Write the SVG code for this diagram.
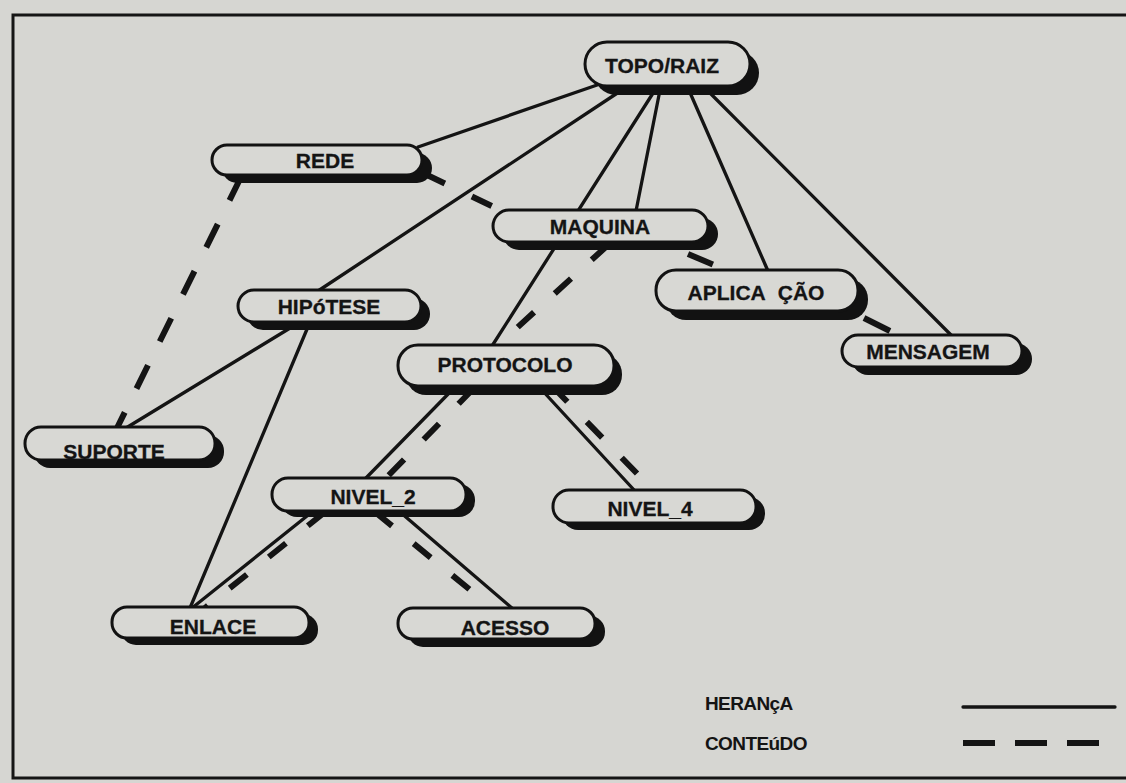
<svg xmlns="http://www.w3.org/2000/svg" width="1126" height="783" viewBox="0 0 1126 783">
<style>
.bg{fill:#d6d6d2}
.frame{fill:none;stroke:#151515;stroke-width:3}
.sh{fill:#121212}
.nd{fill:#d8d8d4;stroke:#121212;stroke-width:3}
.lb{font-family:"Liberation Sans",Arial,Helvetica,sans-serif;font-weight:bold;font-size:21px;fill:#141414;stroke:#141414;stroke-width:0.3;text-anchor:middle}
.lg{font-family:"Liberation Sans",Arial,Helvetica,sans-serif;font-weight:bold;font-size:19px;fill:#141414;letter-spacing:-0.6px}
.solid{stroke:#141414;stroke-width:3.3;fill:none;stroke-linecap:round}
.dash{stroke:#141414;stroke-width:6;fill:none;stroke-dasharray:22 28}
</style>
<rect class="bg" x="0" y="0" width="1126" height="783"/>
<path class="frame" d="M1126,15 H13 V778 H1126"/>
<g id="connectors">
  <!-- heranca -->
  <line class="solid" x1="600" y1="84" x2="418" y2="147"/>
  <line class="solid" x1="625" y1="88" x2="318" y2="291"/>
  <line class="solid" x1="655" y1="90" x2="492" y2="346"/>
  <line class="solid" x1="660" y1="90" x2="636" y2="211"/>
  <line class="solid" x1="688" y1="88" x2="768" y2="271"/>
  <line class="solid" x1="703" y1="86" x2="952" y2="336"/>
  <line class="solid" x1="300" y1="322" x2="126" y2="428"/>
  <line class="solid" x1="310" y1="322" x2="190" y2="608"/>
  <line class="solid" x1="455" y1="387" x2="365" y2="479"/>
  <line class="solid" x1="540" y1="388" x2="635" y2="491"/>
  <line class="solid" x1="312" y1="512" x2="192" y2="608"/>
  <line class="solid" x1="400" y1="512" x2="513" y2="609"/>
  <!-- conteudo -->
  <line class="dash" x1="241" y1="177" x2="117" y2="428" style="stroke-dasharray:26 26.5"/>
  <line class="dash" x1="425" y1="174" x2="500" y2="210" style="stroke-dasharray:22 30"/>
  <line class="dash" x1="608" y1="245" x2="508" y2="336"/>
  <line class="dash" x1="688" y1="254" x2="740" y2="276" style="stroke-dasharray:27 60"/>
  <line class="dash" x1="864" y1="318" x2="900" y2="336" style="stroke-dasharray:29 40"/>
  <line class="dash" x1="474" y1="388" x2="386" y2="478"/>
  <line class="dash" x1="552" y1="386" x2="655" y2="492"/>
  <line class="dash" x1="325" y1="512" x2="205" y2="608"/>
  <line class="dash" x1="375" y1="512" x2="491" y2="607"/>
</g>
<g id="topo">
  <rect class="sh" x="594" y="51" width="165" height="44" rx="22"/>
  <rect class="nd" x="585" y="42" width="165" height="44" rx="22"/>
  <text class="lb" x="662" y="73">TOPO/RAIZ</text>
</g>
<g id="rede">
  <rect class="sh" x="222" y="153" width="210" height="30" rx="15"/>
  <rect class="nd" x="212" y="145" width="210" height="30" rx="15"/>
  <text class="lb" x="325" y="168">REDE</text>
</g>
<g id="maquina">
  <rect class="sh" x="503" y="218" width="215" height="32" rx="16"/>
  <rect class="nd" x="493" y="210" width="215" height="32" rx="16"/>
  <text class="lb" x="600" y="234">MAQUINA</text>
</g>
<g id="aplicacao">
  <rect class="sh" x="666" y="279" width="202" height="41" rx="20"/>
  <rect class="nd" x="656" y="270" width="202" height="41" rx="20"/>
  <text class="lb" x="756" y="300" style="word-spacing:7px">APLICA ÇÃO</text>
</g>
<g id="mensagem">
  <rect class="sh" x="852" y="343" width="180" height="32" rx="16"/>
  <rect class="nd" x="842" y="335" width="180" height="32" rx="16"/>
  <text class="lb" x="928" y="359">MENSAGEM</text>
</g>
<g id="hipotese">
  <rect class="sh" x="247" y="298" width="183" height="32" rx="16"/>
  <rect class="nd" x="238" y="290" width="183" height="32" rx="16"/>
  <text class="lb" x="329" y="314">HIPóTESE</text>
</g>
<g id="protocolo">
  <rect class="sh" x="406" y="354" width="216" height="41" rx="20"/>
  <rect class="nd" x="398" y="345" width="216" height="41" rx="20"/>
  <text class="lb" x="505" y="372">PROTOCOLO</text>
</g>
<g id="suporte">
  <rect class="sh" x="34" y="435" width="190" height="33" rx="16"/>
  <rect class="nd" x="25" y="427" width="190" height="33" rx="16"/>
  <text class="lb" x="114" y="459">SUPORTE</text>
</g>
<g id="nivel2">
  <rect class="sh" x="281" y="484" width="194" height="33" rx="16"/>
  <rect class="nd" x="272" y="478" width="194" height="33" rx="16"/>
  <text class="lb" x="373" y="504">NIVEL_2</text>
</g>
<g id="nivel4">
  <rect class="sh" x="562" y="497" width="203" height="33" rx="16"/>
  <rect class="nd" x="553" y="490" width="203" height="33" rx="16"/>
  <text class="lb" x="650" y="516">NIVEL_4</text>
</g>
<g id="enlace">
  <rect class="sh" x="121" y="614" width="197" height="31" rx="15"/>
  <rect class="nd" x="112" y="607" width="197" height="31" rx="15"/>
  <text class="lb" x="213" y="634">ENLACE</text>
</g>
<g id="acesso">
  <rect class="sh" x="408" y="616" width="197" height="31" rx="15"/>
  <rect class="nd" x="398" y="608" width="197" height="31" rx="15"/>
  <text class="lb" x="505" y="635">ACESSO</text>
</g>
<g id="legend">
  <text class="lg" x="705" y="710">HERANçA</text>
  <text class="lg" x="705" y="750">CONTEúDO</text>
  <line class="solid" x1="963" y1="707" x2="1115" y2="707"/>
  <line class="dash" x1="963" y1="743" x2="1100" y2="743" style="stroke-dasharray:32 20"/>
</g>
</svg>
